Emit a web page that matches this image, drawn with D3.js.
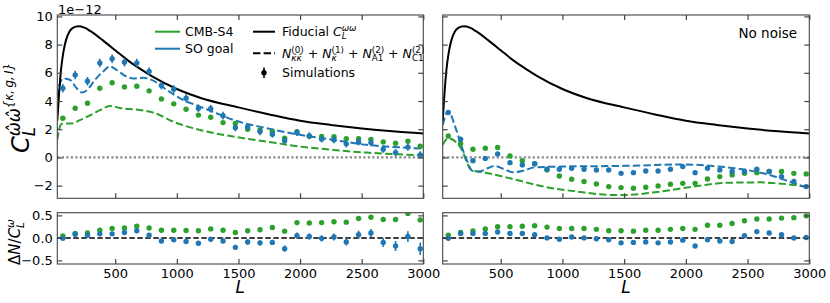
<!DOCTYPE html>
<html>
<head>
<meta charset="utf-8">
<script src="https://cdn.jsdelivr.net/npm/d3@7"></script>
<style>
body { margin: 0; background: #fff; }
text { font-family: "DejaVu Sans", sans-serif; fill: #000; }
</style>
</head>
<body>
<svg width="830" height="303"></svg>
<script>
// bin centres of the simulations
var binL = [75, 175, 275, 375, 475, 575, 675, 775, 875, 975, 1075, 1175, 1275, 1375, 1475,
  1575, 1675, 1775, 1875, 1975, 2075, 2175, 2275, 2375, 2475, 2575, 2675, 2775, 2875, 2975];

// fiducial C_L^ww (units of 1e-12)
var fidL = [30, 45, 60, 80, 100, 130, 160, 200, 250, 300, 400, 500, 600, 700, 800, 1000, 1200, 1500, 1750, 2000, 2250, 2500, 2750, 3000];
var fidC = [2.6, 4.6, 6.2, 7.5, 8.3, 8.95, 9.2, 9.3, 9.2, 8.95, 8.3, 7.6, 6.9, 6.3, 5.75, 4.85, 4.2, 3.55, 3.05, 2.6, 2.3, 2.05, 1.85, 1.7];

// theory noise, left panel
var soThL = [30, 50, 79, 133, 187, 228, 268, 336, 403, 457, 511, 592, 646, 727, 808, 916, 1051, 1187, 1322, 1457, 1728, 2000, 2271, 2542, 2800, 3000];
var soThV = [4.3, 5.2, 5.6, 5.5, 4.9, 4.6, 4.75, 5.5, 6.1, 6.45, 6.2, 5.73, 5.6, 5.65, 5.45, 4.8, 4.08, 3.6, 3.13, 2.66, 2.07, 1.6, 1.24, 0.89, 0.72, 0.62];
var s4ThL = [30, 45, 70, 137, 218, 299, 380, 457, 538, 700, 835, 970, 1187, 1457, 1728, 2000, 2271, 2542, 2800, 3000];
var s4ThV = [1.24, 2.0, 2.4, 2.4, 2.66, 3.0, 3.37, 3.65, 3.5, 3.37, 3.1, 2.54, 1.95, 1.48, 1.12, 0.77, 0.53, 0.34, 0.22, 0.15];

// theory noise, right panel (no noise)
var soNnThL = [30, 75, 130, 175, 230, 270, 320, 400, 450, 520, 600, 680, 780, 1000, 1500, 2000, 2200, 2500, 2700, 2850, 3000];
var soNnThV = [2.3, 3.3, 2.2, 1.0, -0.3, -0.95, -1.0, -0.75, -0.6, -0.8, -1.05, -0.95, -0.7, -0.65, -0.6, -0.5, -0.6, -0.9, -1.3, -1.75, -2.2];
var s4NnThL = [30, 75, 170, 265, 386, 576, 846, 1117, 1387, 1522, 1793, 2063, 2334, 2604, 2740, 2870, 3000];
var s4NnThV = [0.89, 1.36, 0.77, -0.9, -1.1, -1.48, -2.07, -2.42, -2.66, -2.66, -2.42, -2.07, -1.8, -1.77, -1.84, -1.95, -2.1];

// simulations, left panel
var soSim = [4.9, 5.85, 5.4, 6.7, 7.0, 6.75, 6.7, 6.1, 5.1, 4.84, 4.2, 3.49, 3.45, 2.96, 2.11,
  2.17, 1.83, 1.64, 1.19, 1.76, 1.53, 1.3, 1.25, 0.96, 1.1, 1.05, 0.58, 0.34, 0.73, 0.18];
var soSimErr = [0.3, 0.3, 0.3, 0.3, 0.3, 0.3, 0.3, 0.28, 0.28, 0.28, 0.28, 0.27, 0.27, 0.27, 0.26,
  0.26, 0.26, 0.25, 0.25, 0.25, 0.25, 0.25, 0.25, 0.25, 0.25, 0.25, 0.25, 0.25, 0.25, 0.25];
var s4Sim = [2.78, 3.49, 3.84, 4.9, 5.3, 5.0, 5.05, 4.72, 4.15, 3.8, 3.42, 3.0, 2.85, 2.47, 2.4,
  2.0, 1.95, 1.85, 1.36, 1.83, 1.5, 1.48, 1.46, 1.32, 1.32, 1.28, 1.1, 1.0, 1.15, 0.8];
var soRatio = [-0.01, 0.08, 0.06, 0.09, 0.09, 0.12, 0.16, 0.06, -0.07, -0.04, -0.08, -0.12, -0.03, -0.07, -0.21,
  -0.09, -0.11, -0.1, -0.24, 0.05, 0.03, -0.01, 0.02, -0.09, 0.07, 0.11, -0.1, -0.18, 0.03, -0.24];
var soRatioErr = [0.03, 0.03, 0.03, 0.03, 0.03, 0.03, 0.04, 0.04, 0.04, 0.04, 0.05, 0.05, 0.05, 0.05, 0.06,
  0.06, 0.06, 0.06, 0.07, 0.07, 0.07, 0.07, 0.08, 0.08, 0.09, 0.09, 0.1, 0.11, 0.12, 0.14];
var s4Ratio = [0.045, 0.1, 0.11, 0.17, 0.21, 0.22, 0.26, 0.22, 0.17, 0.17, 0.165, 0.16, 0.2, 0.17, 0.12,
  0.16, 0.18, 0.23, 0.15, 0.34, 0.33, 0.34, 0.36, 0.35, 0.43, 0.46, 0.41, 0.41, 0.54, 0.4];

// simulations, right panel
var soNnSim = [3.18, 1.29, -0.23, -0.07, 0.25, -0.37, -0.53, -0.45, -0.84, -0.84, -0.77, -0.84, -0.89, -0.89, -1.13,
  -1.08, -0.96, -0.96, -0.84, -0.65, -1.08, -0.77, -0.89, -1.0, -1.0, -0.84, -1.0, -1.36, -1.71, -2.07];
var soNnSimErr = [0.15, 0.15, 0.14, 0.14, 0.13, 0.13, 0.12, 0.12, 0.12, 0.12, 0.12, 0.12, 0.12, 0.12, 0.12,
  0.12, 0.12, 0.12, 0.12, 0.12, 0.12, 0.12, 0.12, 0.12, 0.12, 0.12, 0.12, 0.12, 0.12, 0.12];
var s4NnSim = [1.52, 0.99, 0.58, 0.65, 0.7, 0.1, -0.23, -0.45, -0.89, -1.32, -1.55, -1.71, -1.88, -2.07, -2.14,
  -2.19, -2.12, -2.02, -1.9, -1.84, -1.84, -1.53, -1.36, -1.24, -1.13, -1.08, -1.0, -1.0, -1.13, -1.17];
var soNnRatio = [-0.01, 0.1, 0.1, 0.1, 0.13, 0.1, 0.1, 0.07, 0, -0.03, 0.02, 0, -0.02, -0.04, -0.11,
  -0.1, -0.09, -0.11, -0.09, -0.05, -0.18, -0.04, -0.07, -0.08, 0.05, 0.14, 0.11, 0.07, 0, 0.01];
var soNnRatioErr = [0.02, 0.02, 0.02, 0.02, 0.02, 0.02, 0.02, 0.02, 0.02, 0.02, 0.02, 0.02, 0.02, 0.03, 0.03,
  0.03, 0.03, 0.03, 0.03, 0.03, 0.03, 0.03, 0.03, 0.04, 0.04, 0.04, 0.04, 0.05, 0.05, 0.05];
var s4NnRatio = [0.06, 0.12, 0.155, 0.2, 0.25, 0.25, 0.26, 0.27, 0.24, 0.21, 0.21, 0.21, 0.19, 0.16, 0.16,
  0.15, 0.17, 0.17, 0.19, 0.21, 0.19, 0.28, 0.28, 0.32, 0.38, 0.42, 0.42, 0.44, 0.45, 0.49];

var xTicks = [500, 1000, 1500, 2000, 2500, 3000];
var yTicksTop = [-2, 0, 2, 4, 6, 8, 10];
var yTicksBot = [-0.5, 0, 0.5];

var green = "#2ca02c", blue = "#1f77b4";
var frameCol = "#444";

var svg = d3.select("svg");

// puts pieces of a formula one after another, sub/sup stacked with "stack"
function mathText(g, x, y, parts) {
  var cx = x, lastStart = x;
  parts.forEach(function(p) {
    var px = p.stack ? lastStart : cx;
    var t = g.append("text")
      .attr("x", px)
      .attr("y", y + (p.dy || 0))
      .style("font-size", p.size + "px")
      .style("font-style", p.it ? "italic" : "normal")
      .text(p.t);
    var w = t.node().getComputedTextLength();
    if (p.stack) {
      cx = Math.max(cx, px + w);
    } else {
      lastStart = cx;
      cx = cx + w;
    }
  });
  return cx - x;
}

function drawPanel(o) {
  var x = d3.scaleLinear().domain([30, 3000]).range([o.x0, o.x1]);
  var yT = d3.scaleLinear().domain([-2.9, 10.1]).range([198.3, 15]);
  var yB = d3.scaleLinear().domain([-0.58, 0.56]).range([264, 212.7]);

  var clipT = "clipT" + o.id, clipB = "clipB" + o.id;
  svg.append("clipPath").attr("id", clipT).append("rect")
    .attr("x", o.x0).attr("y", 15).attr("width", o.x1 - o.x0).attr("height", 198.3 - 15);
  svg.append("clipPath").attr("id", clipB).append("rect")
    .attr("x", o.x0).attr("y", 212.7).attr("width", o.x1 - o.x0).attr("height", 264 - 212.7);

  var top = svg.append("g").attr("clip-path", "url(#" + clipT + ")");
  var bot = svg.append("g").attr("clip-path", "url(#" + clipB + ")");

  // zero lines
  top.append("line")
    .attr("x1", o.x0).attr("x2", o.x1).attr("y1", yT(0)).attr("y2", yT(0))
    .attr("stroke", "#888").attr("stroke-width", 2.2).attr("stroke-dasharray", "2.2,2.3");
  bot.append("line")
    .attr("x1", o.x0).attr("x2", o.x1).attr("y1", yB(0)).attr("y2", yB(0))
    .attr("stroke", "#000").attr("stroke-width", 1.5).attr("stroke-dasharray", "5.5,2.5");

  var line = d3.line()
    .x(function(d) { return x(d[0]); })
    .y(function(d) { return yT(d[1]); })
    .curve(d3.curveMonotoneX);

  function pairs(a, b) { return a.map(function(v, i) { return [v, b[i]]; }); }

  top.append("path").datum(pairs(o.s4L, o.s4V))
    .attr("d", line).attr("fill", "none").attr("stroke", green)
    .attr("stroke-width", 2).attr("stroke-dasharray", "7.4,3.2");
  top.append("path").datum(pairs(o.soL, o.soV))
    .attr("d", line).attr("fill", "none").attr("stroke", blue)
    .attr("stroke-width", 2).attr("stroke-dasharray", "7.4,3.2");
  top.append("path").datum(pairs(fidL, fidC))
    .attr("d", line).attr("fill", "none").attr("stroke", "#000")
    .attr("stroke-width", 2);

  // simulation points
  function points(g, y, vals, errs, col) {
    if (errs) {
      g.selectAll(null).data(vals).enter().append("line")
        .attr("x1", function(d, i) { return x(binL[i]); })
        .attr("x2", function(d, i) { return x(binL[i]); })
        .attr("y1", function(d, i) { return y(d - errs[i]); })
        .attr("y2", function(d, i) { return y(d + errs[i]); })
        .attr("stroke", col).attr("stroke-width", 1.6);
    }
    g.selectAll(null).data(vals).enter().append("circle")
      .attr("cx", function(d, i) { return x(binL[i]); })
      .attr("cy", function(d) { return y(d); })
      .attr("r", 2.7).attr("fill", col);
  }
  points(top, yT, o.s4Sim, null, green);
  points(top, yT, o.soSim, o.soSimErr, blue);
  points(bot, yB, o.s4Ratio, null, green);
  points(bot, yB, o.soRatio, o.soRatioErr, blue);

  // axes with inward ticks
  function styleAxis(g) {
    g.select(".domain").remove();
    g.selectAll(".tick line").attr("stroke", frameCol).attr("stroke-width", 1.2);
    g.selectAll(".tick text").style("font-family", "DejaVu Sans").style("font-size", "13px").attr("fill", "#000");
  }
  svg.append("g").attr("transform", "translate(0,198.3)")
    .call(d3.axisBottom(x).tickValues(xTicks).tickSize(-5).tickFormat("")).call(styleAxis);
  svg.append("g").attr("transform", "translate(0,15)")
    .call(d3.axisTop(x).tickValues(xTicks).tickSize(-5).tickFormat("")).call(styleAxis);
  svg.append("g").attr("transform", "translate(0,264)")
    .call(d3.axisBottom(x).tickValues(xTicks).tickSize(-5).tickPadding(4.5).tickFormat(d3.format("d"))).call(styleAxis);

  svg.append("g").attr("transform", "translate(" + o.x0 + ",0)")
    .call(d3.axisLeft(yT).tickValues(yTicksTop).tickSize(-5).tickPadding(4.5)
      .tickFormat(o.yLabels ? d3.format("d") : "")).call(styleAxis);
  svg.append("g").attr("transform", "translate(" + o.x1 + ",0)")
    .call(d3.axisRight(yT).tickValues(yTicksTop).tickSize(-5).tickFormat("")).call(styleAxis);
  svg.append("g").attr("transform", "translate(" + o.x0 + ",0)")
    .call(d3.axisLeft(yB).tickValues(yTicksBot).tickSize(-5).tickPadding(4.5)
      .tickFormat(o.yLabels ? d3.format(".1f") : "")).call(styleAxis);
  svg.append("g").attr("transform", "translate(" + o.x1 + ",0)")
    .call(d3.axisRight(yB).tickValues(yTicksBot).tickSize(-5).tickFormat("")).call(styleAxis);

  // frames
  svg.append("rect").attr("x", o.x0).attr("y", 15).attr("width", o.x1 - o.x0).attr("height", 198.3 - 15)
    .attr("fill", "none").attr("stroke", frameCol).attr("stroke-width", 1.1);
  svg.append("rect").attr("x", o.x0).attr("y", 212.7).attr("width", o.x1 - o.x0).attr("height", 264 - 212.7)
    .attr("fill", "none").attr("stroke", frameCol).attr("stroke-width", 1.1);

  svg.append("text").attr("x", (o.x0 + o.x1) / 2).attr("y", 293)
    .attr("text-anchor", "middle").style("font-size", "17px").style("font-style", "italic").text("L");
}

drawPanel({
  id: "a", x0: 57.3, x1: 423.3, yLabels: true,
  soL: soThL, soV: soThV, s4L: s4ThL, s4V: s4ThV,
  soSim: soSim, soSimErr: soSimErr, s4Sim: s4Sim,
  soRatio: soRatio, soRatioErr: soRatioErr, s4Ratio: s4Ratio
});
drawPanel({
  id: "b", x0: 442.7, x1: 809.3, yLabels: false,
  soL: soNnThL, soV: soNnThV, s4L: s4NnThL, s4V: s4NnThV,
  soSim: soNnSim, soSimErr: soNnSimErr, s4Sim: s4NnSim,
  soRatio: soNnRatio, soRatioErr: soNnRatioErr, s4Ratio: s4NnRatio
});

// offset text
svg.append("text").attr("x", 58).attr("y", 13.5).style("font-size", "13px").text("1e\u221212");

// "No noise"
svg.append("text").attr("x", 797).attr("y", 38).attr("text-anchor", "end")
  .style("font-size", "13.5px").text("No noise");

// legend
var leg = svg.append("g");
function legLine(x1, x2, y, col, dash) {
  leg.append("line").attr("x1", x1).attr("x2", x2).attr("y1", y).attr("y2", y)
    .attr("stroke", col).attr("stroke-width", 2).attr("stroke-dasharray", dash || null);
}
legLine(155, 180, 31.7, green);
legLine(155, 180, 48.7, blue);
leg.append("text").attr("x", 185).attr("y", 36.2).style("font-size", "12.5px").text("CMB-S4");
leg.append("text").attr("x", 185).attr("y", 53.2).style("font-size", "12.5px").text("SO goal");

legLine(253, 275, 31.7, "#000");
legLine(253, 275, 53.3, "#000", "7.4,3.2");
leg.append("line").attr("x1", 264).attr("x2", 264).attr("y1", 67.5).attr("y2", 78)
  .attr("stroke", "#000").attr("stroke-width", 1.6);
leg.append("circle").attr("cx", 264).attr("cy", 72.7).attr("r", 2.7).attr("fill", "#000");

var fs = 12.5, ss = 8.75;
mathText(leg, 282, 36.2, [
  {t: "Fiducial\u00a0", size: fs},
  {t: "C", size: fs, it: true},
  {t: "\u03c9\u03c9", size: ss, it: true, dy: -5},
  {t: "L", size: ss, it: true, dy: 3, stack: true}
]);
mathText(leg, 282, 57.8, [
  {t: "N", size: fs, it: true},
  {t: "(0)", size: ss, dy: -5},
  {t: "\u03ba\u0302\u03ba\u0302", size: ss, it: true, dy: 3, stack: true},
  {t: "\u00a0+\u00a0", size: fs},
  {t: "N", size: fs, it: true},
  {t: "(1)", size: ss, dy: -5},
  {t: "\u03ba\u0302", size: ss, it: true, dy: 3, stack: true},
  {t: "\u00a0+\u00a0", size: fs},
  {t: "N", size: fs, it: true},
  {t: "(2)", size: ss, dy: -5},
  {t: "A1", size: ss, dy: 3, stack: true},
  {t: "\u00a0+\u00a0", size: fs},
  {t: "N", size: fs, it: true},
  {t: "(2)", size: ss, dy: -5},
  {t: "C1", size: ss, dy: 3, stack: true}
]);
leg.append("text").attr("x", 282).attr("y", 77.2).style("font-size", "12.5px").text("Simulations");

// y labels (rotated)
var yl = svg.append("g");
var wY = mathText(yl, 0, 0, [
  {t: "C", size: 24, it: true},
  {t: "\u03c9\u0302\u03c9\u0302", size: 16.8, it: true, dy: -9},
  {t: "L", size: 16.8, it: true, dy: 6, stack: true},
  {t: "{\u03ba,\u2009g,\u2009I}", size: 11.8, it: true, dy: -16}
]);
yl.attr("transform", "translate(28.5," + (108 + wY / 2) + ") rotate(-90)");

var yl2 = svg.append("g");
var wY2 = mathText(yl2, 0, 0, [
  {t: "\u0394", size: 15},
  {t: "N", size: 15, it: true},
  {t: "/", size: 15},
  {t: "C", size: 15, it: true},
  {t: "\u03c9", size: 10.5, it: true, dy: -6},
  {t: "L", size: 10.5, it: true, dy: 4, stack: true}
]);
yl2.attr("transform", "translate(20," + (242 + wY2 / 2) + ") rotate(-90)");
</script>
</body>
</html>
